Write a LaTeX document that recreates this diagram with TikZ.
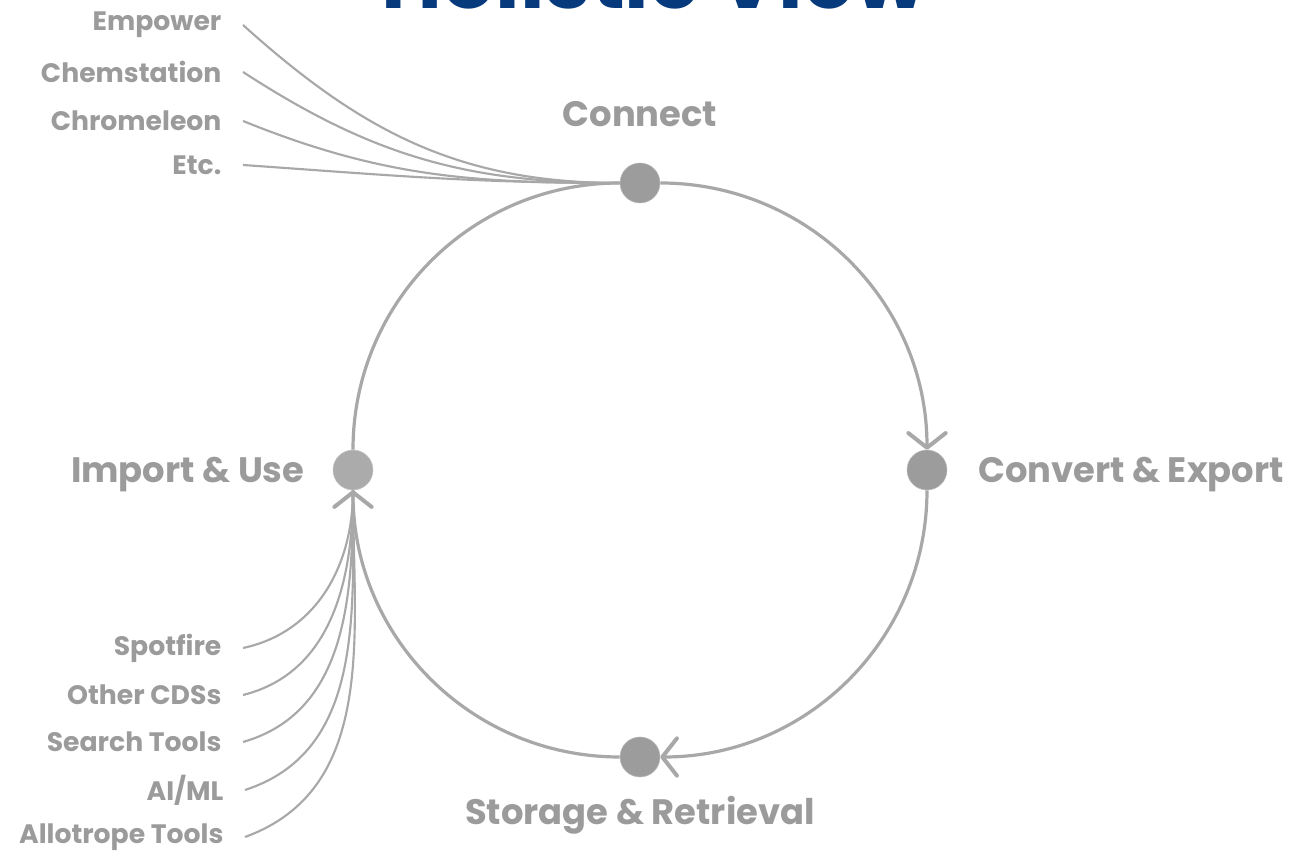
\documentclass[tikz,border=0pt]{standalone}
\usepackage{fontspec}
\setmainfont{Poppins}
\usetikzlibrary{arrows.meta,positioning}
\definecolor{titleblue}{HTML}{073A7C}
\definecolor{labelgrey}{HTML}{9B9B9B}
\definecolor{linegrey}{HTML}{A8A8A8}
\definecolor{dotgrey}{HTML}{9C9C9C}
\definecolor{dotlight}{HTML}{ABABAB}

\begin{document}
\begin{tikzpicture}[x=0.75pt,y=0.75pt,
    stage/.style={circle,fill=dotgrey,draw=dotgrey!70,minimum size=30pt,inner sep=0pt},
    stagelabel/.style={text=labelgrey,font=\bfseries\fontsize{26.5}{32}\selectfont,inner sep=0pt,text depth=0pt},
    srclabel/.style={anchor=east,text=labelgrey,font=\bfseries\fontsize{20}{24}\selectfont,inner xsep=16pt,inner ysep=0pt},
    feed/.style={draw=linegrey,line width=1.6pt},
    ring/.style={draw=linegrey,line width=2.4pt},
    ringarrow/.style={ring,-{Straight Barb[length=11pt,width=28pt,line width=3pt,round]}}]
    \useasboundingbox (0,0) rectangle (1293,852);
    \clip (0,0) rectangle (1293,852);

    % Title
    \node[anchor=base,text=titleblue,font=\bfseries\fontsize{62.5}{72}\selectfont,inner sep=0pt] (title) at (654,843) {Holistic View};

    % Stages
    \node[stage] (connect) at (640,669) {};
    \node[stage] (convert) at (927,382) {};
    \node[stage] (storage) at (640,95) {};
    \node[stage,fill=dotlight,draw=dotlight!70] (import) at (353,382) {};

    \node[stagelabel,above=27pt of connect] (connectlbl) {Connect};
    \node[stagelabel,right=23pt of convert] (convertlbl) {Convert \& Export};
    \node[stagelabel,below=14pt of storage] (storagelbl) {Storage \& Retrieval};
    \node[stagelabel,left=21pt of import] (importlbl) {Import \& Use};

    % Cycle
    \draw[ringarrow] (connect) to[out=0,in=90] (convert);
    \draw[ringarrow] (convert) to[out=-90,in=0] (storage);
    \draw[ringarrow] (storage) to[out=180,in=-90] (import);
    \draw[ring] (import) to[out=90,in=180] (connect);

    % Data sources
    \node[srclabel] (empower) at (243,827) {Empower};
    \node[srclabel] (chemstation) at (243,780) {Chemstation};
    \node[srclabel] (chromeleon) at (243,731) {Chromeleon};
    \node[srclabel] (etc) at (243,687) {Etc.};

    \draw[feed] (empower.east) to[out=-42,in=180] (connect.west);
    \draw[feed] (chemstation.east) to[out=-33,in=180] (connect.west);
    \draw[feed] (chromeleon.east) to[out=-22,in=180] (connect.west);
    \draw[feed] (etc.east) to[out=-4,in=180] (connect.west);

    % Consumers
    \node[srclabel] (spotfire) at (243,204) {Spotfire};
    \node[srclabel] (othercds) at (243,157) {Other CDSs};
    \node[srclabel] (search) at (243,110) {Search Tools};
    \node[srclabel] (aiml) at (245,62) {AI/ML};
    \node[srclabel] (allotrope) at (245,15) {Allotrope Tools};

    \draw[feed] (spotfire.east) to[out=12,in=-90] (import.south);
    \draw[feed] (othercds.east) to[out=14,in=-90] (import.south);
    \draw[feed] (search.east) to[out=16,in=-90] (import.south);
    \draw[feed] (aiml.east) to[out=18,in=-90] (import.south);
    \draw[feed] (allotrope.east) to[out=20,in=-90] (import.south);
\end{tikzpicture}
\end{document}
